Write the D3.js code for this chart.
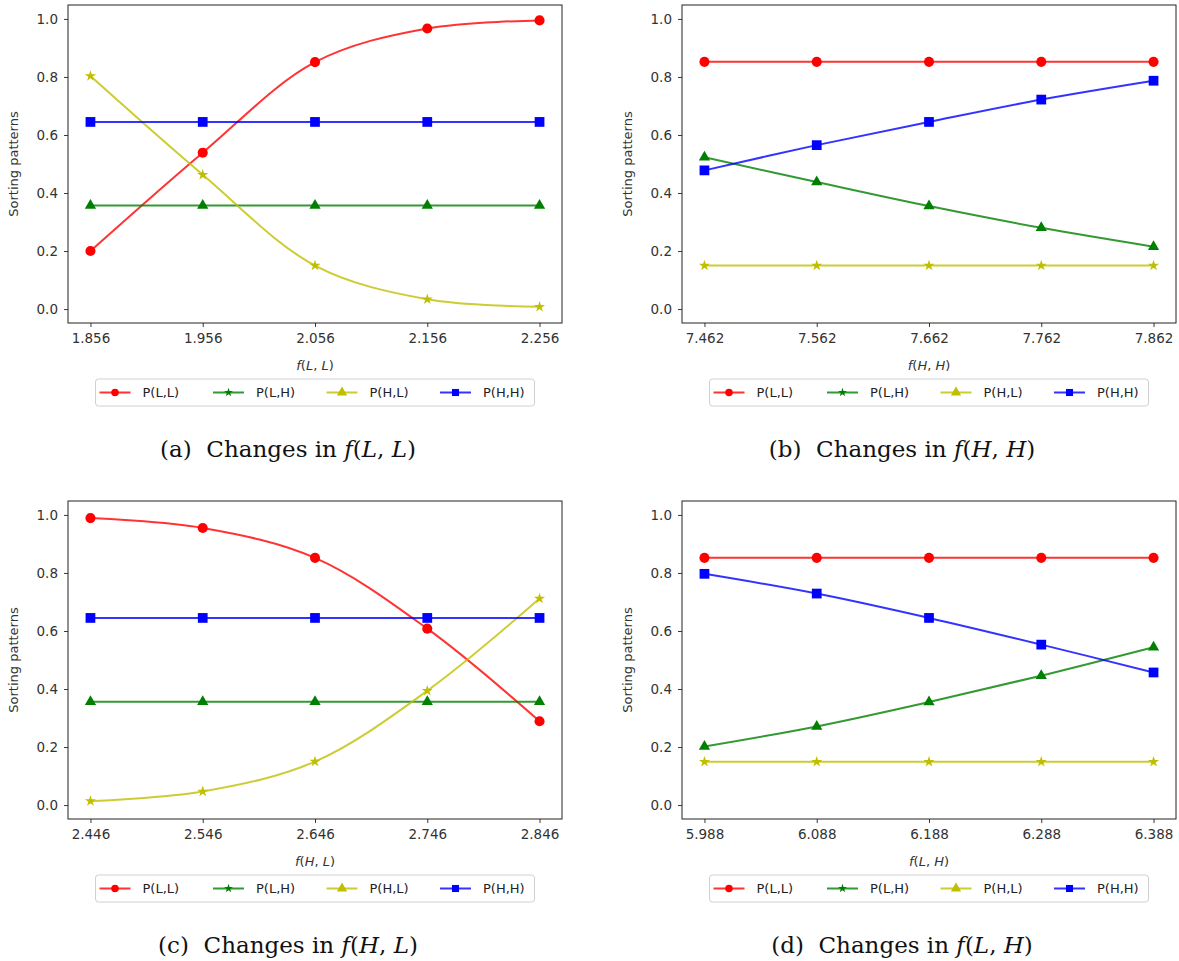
<!DOCTYPE html>
<html>
<head>
<meta charset="utf-8">
<script src="https://cdn.jsdelivr.net/npm/d3@7"></script>
<style>
    body { margin: 0; background: #fff; }
    #chart { width: 1179px; height: 961px; }
    svg { display: block; }
</style>
</head>
<body>
<div id="chart"></div>
<script>
// series names (legend order) and colours
const seriesNames = ["P(L,L)", "P(L,H)", "P(H,L)", "P(H,H)"];
const seriesColors = ["#ff0000", "#008000", "#bfbf00", "#0000ff"];

// panel (a): changes in f(L,L)
const xA = [1.856, 1.956, 2.056, 2.156, 2.256];
const aLL = [0.200, 0.539, 0.851, 0.967, 0.995];
const aLH = [0.357, 0.357, 0.357, 0.357, 0.357];
const aHL = [0.803, 0.463, 0.150, 0.034, 0.008];
const aHH = [0.645, 0.645, 0.645, 0.645, 0.645];

// panel (b): changes in f(H,H)
const xB = [7.462, 7.562, 7.662, 7.762, 7.862];
const bLL = [0.852, 0.852, 0.852, 0.852, 0.852];
const bLH = [0.523, 0.438, 0.355, 0.280, 0.215];
const bHL = [0.150, 0.150, 0.150, 0.150, 0.150];
const bHH = [0.478, 0.565, 0.645, 0.722, 0.787];

// panel (c): changes in f(H,L)
const xC = [2.446, 2.546, 2.646, 2.746, 2.846];
const cLL = [0.989, 0.955, 0.852, 0.608, 0.289];
const cLH = [0.356, 0.356, 0.356, 0.356, 0.356];
const cHL = [0.014, 0.047, 0.150, 0.394, 0.712];
const cHH = [0.645, 0.645, 0.645, 0.645, 0.645];

// panel (d): changes in f(L,H)
const xD = [5.988, 6.088, 6.188, 6.288, 6.388];
const dLL = [0.852, 0.852, 0.852, 0.852, 0.852];
const dLH = [0.202, 0.271, 0.355, 0.446, 0.544];
const dHL = [0.149, 0.149, 0.149, 0.149, 0.149];
const dHH = [0.797, 0.729, 0.645, 0.553, 0.457];

const yTicks = [0.0, 0.2, 0.4, 0.6, 0.8, 1.0];

const panels = [
    {x: xA, series: [aLL, aLH, aHL, aHH], letter: "a", v: ["L", "L"], left: 68, top: 5},
    {x: xB, series: [bLL, bLH, bHL, bHH], letter: "b", v: ["H", "H"], left: 682, top: 5},
    {x: xC, series: [cLL, cLH, cHL, cHH], letter: "c", v: ["H", "L"], left: 68, top: 501},
    {x: xD, series: [dLL, dLH, dHL, dHH], letter: "d", v: ["L", "H"], left: 682, top: 501}
];

const W = 1179, H = 961;
const axW = 494, axH = 318;
const sansFont = "'DejaVu Sans', sans-serif";
const serifFont = "'DejaVu Serif', 'Liberation Serif', serif";

// plot markers and (swapped, as in the original) legend markers
const plotSymbols = [d3.symbolCircle, d3.symbolTriangle, d3.symbolStar, d3.symbolSquare];
const plotSizes = [80, 55, 38, 95];
const legendSymbols = [d3.symbolCircle, d3.symbolStar, d3.symbolTriangle, d3.symbolSquare];
const legendSizes = [45, 25, 45, 50];

const svg = d3.select("#chart").append("svg")
    .attr("width", W)
    .attr("height", H);

panels.forEach(function(p) {
    let g = svg.append("g")
        .attr("transform", "translate(" + p.left + "," + p.top + ")");

    let x0 = p.x[0], x1 = p.x[p.x.length - 1];
    let pad = (x1 - x0) * 0.05;
    let x = d3.scaleLinear()
        .domain([x0 - pad, x1 + pad])
        .range([0, axW]);
    let y = d3.scaleLinear()
        .domain([-0.048, 1.048])
        .range([axH, 0]);

    // axes
    let xAxis = g.append("g")
        .attr("transform", "translate(0," + axH + ")")
        .call(d3.axisBottom(x).tickValues(p.x).tickFormat(d3.format(".3f")).tickSize(4).tickPadding(6));
    let yAxis = g.append("g")
        .call(d3.axisLeft(y).tickValues(yTicks).tickFormat(d3.format(".1f")).tickSize(4).tickPadding(6));
    [xAxis, yAxis].forEach(function(a) {
        a.select(".domain").remove();
        a.selectAll(".tick line").attr("stroke", "#222").attr("stroke-width", 0.9);
        a.selectAll(".tick text")
            .attr("fill", "#333")
            .style("font-family", sansFont)
            .style("font-size", "13.5px");
    });

    // lines
    let line = d3.line()
        .x(function(d) { return x(d[0]); })
        .y(function(d) { return y(d[1]); })
        .curve(d3.curveCatmullRom.alpha(0.5));

    p.series.forEach(function(vals, i) {
        let pts = p.x.map(function(xv, j) { return [xv, vals[j]]; });
        g.append("path")
            .datum(pts)
            .attr("d", line)
            .attr("fill", "none")
            .attr("stroke", seriesColors[i])
            .attr("stroke-opacity", 0.8)
            .attr("stroke-width", 2);
        g.selectAll(".m" + i)
            .data(pts)
            .enter()
            .append("path")
            .attr("class", "m" + i)
            .attr("d", d3.symbol().type(plotSymbols[i]).size(plotSizes[i]))
            .attr("transform", function(d) { return "translate(" + x(d[0]) + "," + y(d[1]) + ")"; })
            .attr("fill", seriesColors[i]);
    });

    // frame
    g.append("rect")
        .attr("width", axW)
        .attr("height", axH)
        .attr("fill", "none")
        .attr("stroke", "#222")
        .attr("stroke-width", 1);

    // axis labels
    g.append("text")
        .attr("transform", "translate(-50," + (axH / 2) + ") rotate(-90)")
        .attr("text-anchor", "middle")
        .attr("fill", "#333")
        .style("font-family", sansFont)
        .style("font-size", "13px")
        .text("Sorting patterns");

    let xl = g.append("text")
        .attr("x", axW / 2)
        .attr("y", axH + 47)
        .attr("text-anchor", "middle")
        .attr("fill", "#333")
        .style("font-family", sansFont)
        .style("font-size", "13px");
    xl.append("tspan").style("font-style", "italic").text("f");
    xl.append("tspan").text("(");
    xl.append("tspan").style("font-style", "italic").text(p.v[0]);
    xl.append("tspan").text(", ");
    xl.append("tspan").style("font-style", "italic").text(p.v[1]);
    xl.append("tspan").text(")");

    // legend
    let lw = 439, lh = 27;
    let lg = g.append("g")
        .attr("transform", "translate(" + (axW / 2 - lw / 2) + "," + (axH + 56) + ")");
    lg.append("rect")
        .attr("width", lw)
        .attr("height", lh)
        .attr("rx", 3)
        .attr("fill", "#fff")
        .attr("stroke", "#d0d0d0");
    seriesNames.forEach(function(name, i) {
        let ox = 4 + i * 113.5;
        lg.append("line")
            .attr("x1", ox).attr("x2", ox + 31)
            .attr("y1", lh / 2).attr("y2", lh / 2)
            .attr("stroke", seriesColors[i])
            .attr("stroke-opacity", 0.8)
            .attr("stroke-width", 2);
        lg.append("path")
            .attr("d", d3.symbol().type(legendSymbols[i]).size(legendSizes[i]))
            .attr("transform", "translate(" + (ox + 15.5) + "," + (lh / 2) + ")")
            .attr("fill", seriesColors[i]);
        lg.append("text")
            .attr("x", ox + 43)
            .attr("y", lh / 2)
            .attr("dy", "0.35em")
            .attr("fill", "#222")
            .style("font-family", sansFont)
            .style("font-size", "13px")
            .text(name);
    });

    // caption
    let cap = svg.append("text")
        .attr("x", p.left + axW / 2 - 27)
        .attr("y", p.top + axH + 134)
        .attr("text-anchor", "middle")
        .attr("fill", "#111")
        .style("font-family", serifFont)
        .style("font-size", "23px");
    cap.append("tspan").text("(" + p.letter + ")\u00a0 Changes in ");
    cap.append("tspan").style("font-style", "italic").text("f");
    cap.append("tspan").text("(");
    cap.append("tspan").style("font-style", "italic").text(p.v[0]);
    cap.append("tspan").text(", ");
    cap.append("tspan").style("font-style", "italic").text(p.v[1]);
    cap.append("tspan").text(")");
});
</script>
</body>
</html>
